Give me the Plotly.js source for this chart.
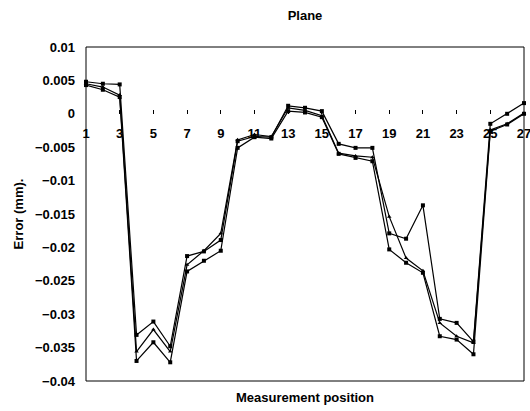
<!DOCTYPE html>
<html>
<head>
<meta charset="utf-8">
<script src="https://cdn.plot.ly/plotly-3.0.1.min.js"></script>
<style>html,body{margin:0;padding:0;background:#fff;}#chart{width:530px;height:411px;}</style>
</head>
<body>
<div id="chart"></div>
<script>
var positions = [1,2,3,4,5,6,7,8,9,10,11,12,13,14,15,16,17,18,19,20,21,22,23,24,25,26,27];
var seriesA = [0.0048,0.0045,0.0044,-0.0331,-0.0311,-0.0348,-0.0213,-0.0206,-0.0189,-0.0041,-0.0034,-0.0035,0.0012,0.0009,0.0004,-0.0045,-0.0051,-0.0051,-0.0179,-0.0187,-0.0137,-0.0307,-0.0313,-0.0341,-0.0015,0.0000,0.0016];
var seriesB = [0.0045,0.0040,0.0028,-0.0356,-0.0323,-0.0356,-0.0226,-0.0205,-0.0179,-0.0039,-0.0031,-0.0034,0.0009,0.0005,-0.0003,-0.0059,-0.0063,-0.0065,-0.0154,-0.0216,-0.0235,-0.0313,-0.0333,-0.0343,-0.0024,-0.0015,0.0001];
var seriesC = [0.0043,0.0036,0.0025,-0.0370,-0.0342,-0.0372,-0.0236,-0.0220,-0.0205,-0.0051,-0.0035,-0.0037,0.0004,0.0002,-0.0005,-0.0060,-0.0066,-0.0071,-0.0203,-0.0223,-0.0238,-0.0333,-0.0338,-0.0360,-0.0026,-0.0016,0.0000];
var xTickVals = [1,3,5,7,9,11,13,15,17,19,21,23,25,27];
var xTickText = ["1","3","5","7","9","11","13","15","17","19","21","23","25","27"];
var yTickVals = [0.01,0.005,0,-0.005,-0.01,-0.015,-0.02,-0.025,-0.03,-0.035,-0.04];
var yTickText = ["0.01","0.005","0","\u22120.005","\u22120.01","\u22120.015","\u22120.02","\u22120.025","\u22120.03","\u22120.035","\u22120.04"];

var font = {family: "Liberation Sans, Arial, sans-serif", size: 13, color: "#000", weight: "bold"};
function tr(y, sym) {
  return {x: positions, y: y, type: "scatter", mode: "lines+markers", cliponaxis: false,
    line: {color: "#000", width: 1.2},
    marker: {color: "#000", size: 4, symbol: sym},
    showlegend: false, hoverinfo: "skip"};
}
var data = [tr(seriesA, "square"), tr(seriesB, "triangle-up"), tr(seriesC, "square")];
var layout = {
  width: 530, height: 411,
  margin: {l: 86, r: 6, t: 47, b: 30},
  paper_bgcolor: "#fff", plot_bgcolor: "#fff",
  font: font,
  title: {text: "Plane", font: font, x: 0.5, xref: "paper", xanchor: "center", y: 1 - 15/411, yref: "container", yanchor: "middle"},
  xaxis: {range: [1, 27], anchor: "free", position: 0.8, showgrid: false, zeroline: false, showline: false,
    tickmode: "array", tickvals: xTickVals, ticktext: xTickText, ticks: "inside", ticklen: 4, tickcolor: "#000",
    ticklabelstandoff: 10, ticklabeloverflow: "allow", tickfont: font},
  yaxis: {range: [-0.04, 0.01], showgrid: false, zeroline: false, showline: false,
    tickmode: "array", tickvals: yTickVals, ticktext: yTickText, ticks: "", tickfont: font,
    ticklabelstandoff: 10,
    title: {text: "Error (mm).", font: font, standoff: 8}},
  shapes: [{type: "rect", xref: "paper", yref: "paper", x0: 0, x1: 1, y0: 0, y1: 1, line: {color: "#000", width: 1}}],
  annotations: [{text: "Measurement position", xref: "paper", yref: "paper", x: 0.5, y: -17/334, yanchor: "middle", xanchor: "center", showarrow: false, font: font}]
};
Plotly.newPlot("chart", data, layout, {displayModeBar: false, staticPlot: true});
</script>
</body>
</html>
